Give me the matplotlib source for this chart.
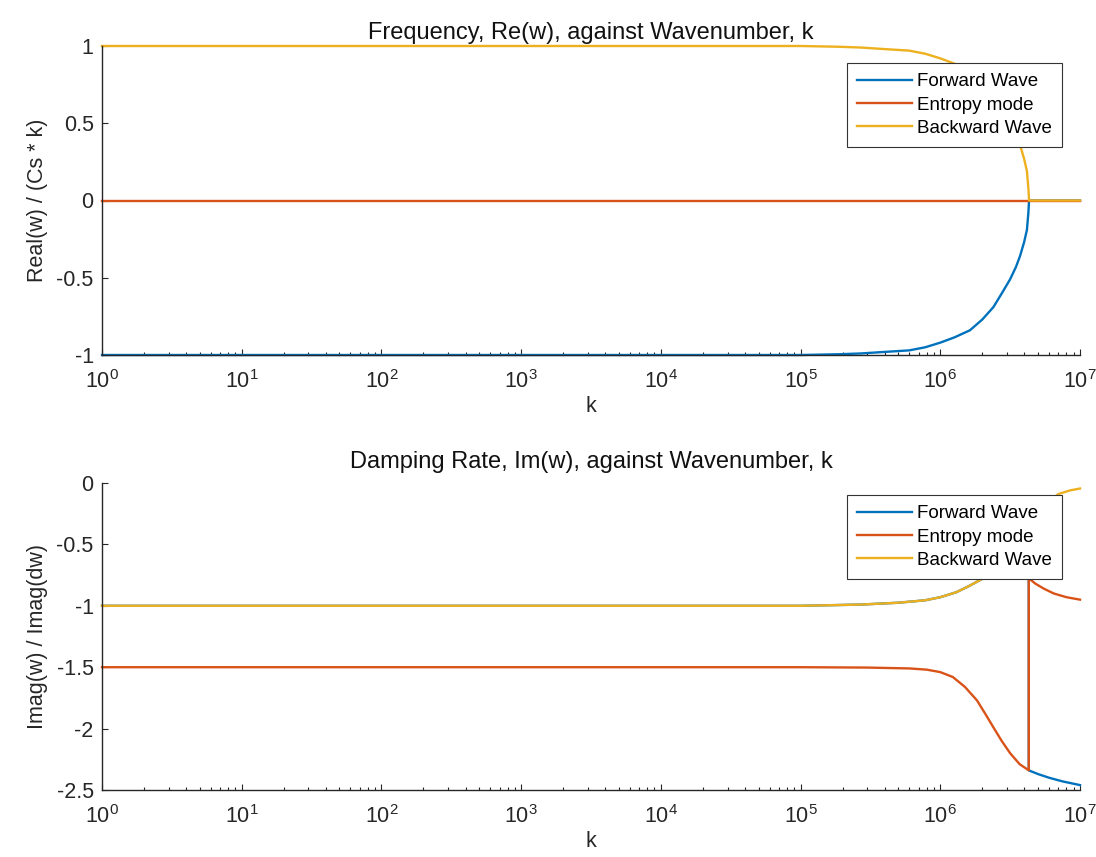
import matplotlib
matplotlib.use("Agg")
import matplotlib.pyplot as plt
from matplotlib.ticker import LogLocator, NullFormatter, FixedLocator

plt.rcParams['font.family'] = ['Liberation Sans', 'DejaVu Sans']
plt.rcParams['mathtext.fontset'] = 'custom'
plt.rcParams['mathtext.rm'] = 'Liberation Sans'
plt.rcParams['mathtext.it'] = 'Liberation Sans'

# ---- data ----
# Real part (top panel)
k_re = [1, 1e5, 1.9e5, 2.7e5, 4e5, 6e5, 7.8e5, 1e6, 1.27e6, 1.63e6, 2e6,
        2.4e6, 2.76e6, 3.16e6, 3.48e6, 3.72e6, 3.98e6, 4.17e6, 4.27e6, 4.32e6, 1e7]
backward_re = [1.0, 1.0, 0.995, 0.99, 0.98, 0.97, 0.95, 0.92, 0.885, 0.84, 0.77,
               0.69, 0.60, 0.51, 0.43, 0.36, 0.27, 0.19, 0.08, 0.0, 0.0]
forward_re = [-1.0, -1.0, -0.995, -0.99, -0.98, -0.97, -0.95, -0.92, -0.885, -0.84, -0.77,
              -0.69, -0.60, -0.51, -0.43, -0.36, -0.27, -0.19, -0.08, 0.0, 0.0]
k_entropy_re = [1, 1e7]
entropy_re = [0.0, 0.0]

# Imaginary part (bottom panel)
k_back_im = [1, 1e5, 2.7e5, 5e5, 7.8e5, 1e6, 1.3e6, 1.6e6, 2e6, 2.5e6, 3e6,
             3.5e6, 4.3e6, 5e6, 6e6, 7e6, 8.5e6, 1e7]
backward_im = [-1.0, -1.0, -0.99, -0.975, -0.955, -0.93, -0.89, -0.84, -0.78, -0.69, -0.60,
               -0.50, -0.38, -0.25, -0.15, -0.09, -0.06, -0.045]
k_fwd_im = [1, 1e5, 2.7e5, 5e5, 7.8e5, 1e6, 1.3e6, 1.6e6, 2e6, 2.5e6, 3e6,
            3.5e6, 4.3e6, 4.3e6, 5e6, 6e6, 7.5e6, 1e7]
forward_im = [-1.0, -1.0, -0.99, -0.975, -0.955, -0.93, -0.89, -0.84, -0.78, -0.69, -0.60,
              -0.50, -0.38, -2.34, -2.37, -2.40, -2.43, -2.46]
k_ent_im = [1, 1e5, 3e5, 6e5, 8e5, 1e6, 1.23e6, 1.5e6, 1.83e6, 2.1e6, 2.4e6, 2.75e6,
            3.16e6, 3.7e6, 4.3e6, 4.3e6, 4.45e6, 4.8e6, 5.5e6, 6.5e6, 8e6, 1e7]
entropy_im = [-1.5, -1.5, -1.503, -1.51, -1.52, -1.54, -1.58, -1.66, -1.77, -1.88, -1.99, -2.10,
              -2.20, -2.29, -2.34, -0.74, -0.79, -0.82, -0.86, -0.90, -0.93, -0.95]

labels = ["Forward Wave", "Entropy mode", "Backward Wave"]
x_major = [1, 1e1, 1e2, 1e3, 1e4, 1e5, 1e6, 1e7]
x_major_labels = ["$10^{0}$", "$10^{1}$", "$10^{2}$", "$10^{3}$", "$10^{4}$",
                  "$10^{5}$", "$10^{6}$", "$10^{7}$"]
c_blue, c_red, c_yel = "#0072BD", "#D95319", "#EDB120"

fig = plt.figure(figsize=(10.96, 8.57), dpi=100)
W, H = 1096, 857
ax1 = fig.add_axes([102 / W, 1 - 355 / H, 978 / W, 309 / H])
ax2 = fig.add_axes([102 / W, 1 - 790 / H, 978 / W, 307 / H])

lw = 1.7
ax1.plot(k_re, forward_re, color=c_blue, lw=lw, label=labels[0], clip_on=False)
ax1.plot(k_entropy_re, entropy_re, color=c_red, lw=lw, label=labels[1], clip_on=False)
ax1.plot(k_re, backward_re, color=c_yel, lw=lw, label=labels[2], clip_on=False)

ax2.plot(k_fwd_im, forward_im, color=c_blue, lw=lw, label=labels[0], clip_on=False)
ax2.plot(k_ent_im, entropy_im, color=c_red, lw=lw, label=labels[1], clip_on=False)
ax2.plot(k_back_im, backward_im, color=c_yel, lw=lw, label=labels[2], clip_on=False)

axcol = "#262626"
fs = 15.5
for ax, yl, yt, ttl, ylab, legy, tpad in [
    (ax1, (-1, 1), [-1, -0.5, 0, 0.5, 1], "Frequency, Re(w), against Wavenumber, k",
     "Real(w) / (Cs * k)", (355 - 63) / 309, 5),
    (ax2, (-2.5, 0), [-2.5, -2, -1.5, -1, -0.5, 0], "Damping Rate, Im(w), against Wavenumber, k",
     "Imag(w) / Imag(dw)", (790 - 495) / 307, 11),
]:
    ax.set_xscale('log')
    ax.set_xlim(1, 1e7)
    ax.set_ylim(*yl)
    ax.set_yticks(yt)
    ax.set_yticklabels([('%g' % v) for v in yt])
    ax.xaxis.set_major_locator(FixedLocator(x_major))
    ax.set_xticklabels(x_major_labels)
    ax.xaxis.set_minor_locator(LogLocator(base=10, subs=range(2, 10), numticks=100))
    ax.xaxis.set_minor_formatter(NullFormatter())
    for s in ['top', 'right']:
        ax.spines[s].set_visible(False)
    for s in ['left', 'bottom']:
        ax.spines[s].set_color(axcol)
        ax.spines[s].set_linewidth(1.0)
    ax.tick_params(which='major', direction='in', length=4, width=0.8, colors=axcol,
                   labelsize=fs)
    ax.tick_params(axis='y', which='major', pad=6)
    ax.tick_params(axis='x', which='major', pad=11)
    ax.tick_params(which='minor', direction='in', length=2, width=0.8, colors=axcol)
    ax.set_title(ttl, fontsize=17, color="#111111", pad=tpad)
    ax.set_xlabel("k", fontsize=fs, color=axcol, labelpad=2)
    ax.set_ylabel(ylab, fontsize=fs, color=axcol, labelpad=6)
    leg = ax.legend(loc='upper right', bbox_to_anchor=((1062 - 102) / 978, legy), fontsize=13.5,
                    frameon=True, fancybox=False, edgecolor="#333333", framealpha=1,
                    handlelength=2.95, handletextpad=0.25, borderpad=0.55,
                    labelspacing=0.32, borderaxespad=0)
    leg.get_frame().set_linewidth(0.8)

fig.savefig("out.png", dpi=100)
